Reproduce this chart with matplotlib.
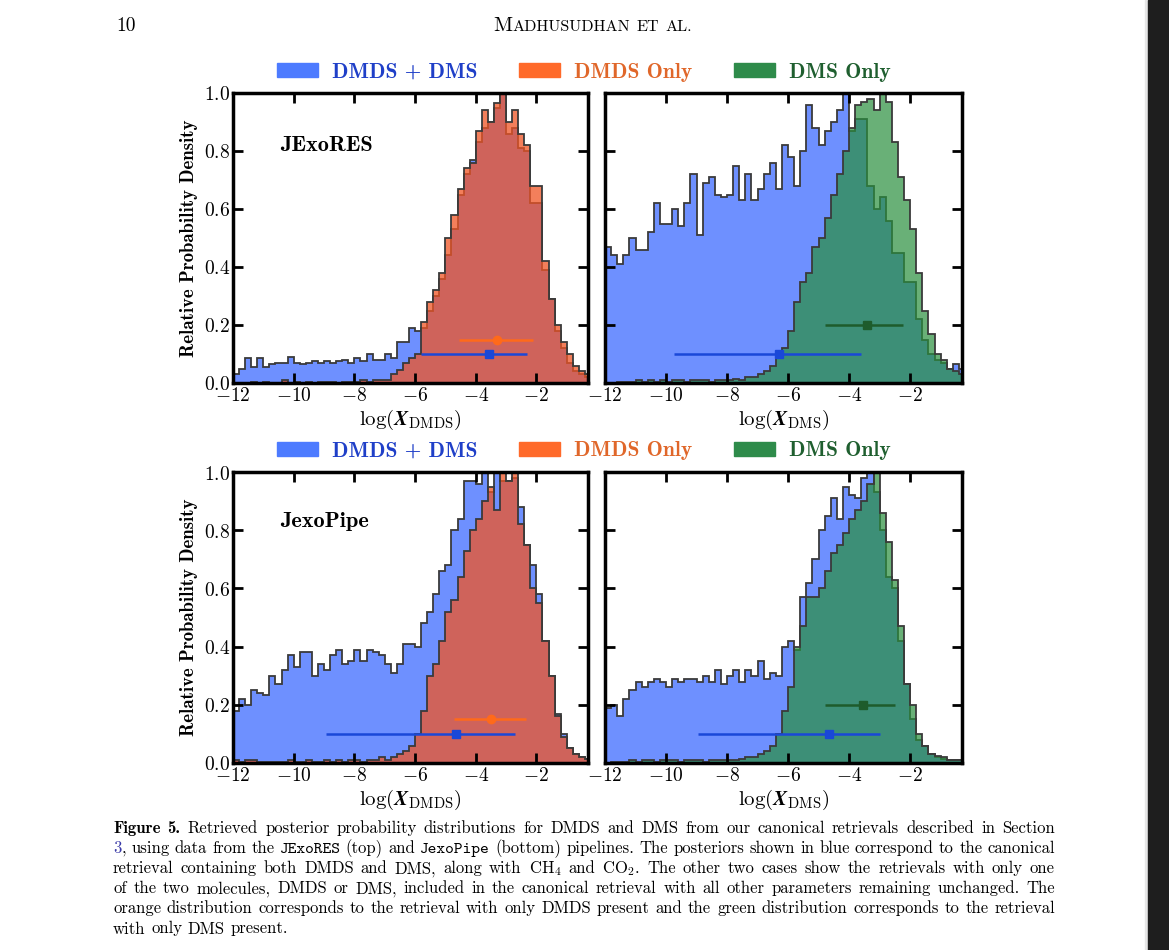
import numpy as np
import matplotlib
matplotlib.use('Agg')
import matplotlib.pyplot as plt
from matplotlib.patches import Patch, Rectangle
from matplotlib.ticker import FuncFormatter

plt.rcParams['mathtext.fontset'] = 'cm'

W, H = 1169, 950

# histogram bins (log mixing ratio, width 0.2)
bin_edges = np.round(np.arange(-12.0, -0.1, 0.2), 1)

# JExoRES, log(X_DMDS)
jexores_dmds_both = [0.03, 0.05, 0.085, 0.055, 0.085, 0.055, 0.065, 0.07, 0.07, 0.09,
                     0.07, 0.065, 0.07, 0.075, 0.07, 0.075, 0.07, 0.075, 0.08, 0.07,
                     0.085, 0.075, 0.1, 0.08, 0.08, 0.1, 0.085, 0.14, 0.14, 0.19,
                     0.18, 0.19, 0.25, 0.3, 0.36, 0.44, 0.53, 0.65, 0.72, 0.77,
                     0.83, 0.88, 0.9, 0.95, 1.0, 0.86, 0.88, 0.81, 0.8, 0.62,
                     0.62, 0.39, 0.29, 0.18, 0.12, 0.07, 0.04, 0.03, 0.02]
jexores_dmds_only = [0.0, 0.0, 0.0, 0.005, 0.0, 0.005, 0.0, 0.0, 0.01, 0.0,
                     0.005, 0.0, 0.005, 0.0, 0.005, 0.005, 0.005, 0.0, 0.005, 0.005,
                     0.005, 0.01, 0.005, 0.01, 0.01, 0.01, 0.03, 0.045, 0.07, 0.085,
                     0.1, 0.21, 0.28, 0.32, 0.38, 0.5, 0.58, 0.67, 0.74, 0.76,
                     0.87, 0.94, 0.9, 0.965, 1.0, 0.9, 0.94, 0.86, 0.82, 0.68,
                     0.68, 0.42, 0.29, 0.2, 0.14, 0.1, 0.06, 0.04, 0.03]
# JExoRES, log(X_DMS)
jexores_dms_both = [0.47, 0.44, 0.41, 0.44, 0.5, 0.46, 0.46, 0.52, 0.62, 0.55,
                    0.55, 0.6, 0.54, 0.62, 0.72, 0.51, 0.69, 0.71, 0.65, 0.64,
                    0.65, 0.75, 0.63, 0.72, 0.63, 0.67, 0.72, 0.76, 0.67, 0.82,
                    0.78, 0.68, 0.8, 0.96, 0.88, 0.82, 0.87, 0.9, 0.94, 1.0,
                    0.87, 0.91, 0.91, 0.68, 0.6, 0.64, 0.56, 0.45, 0.45, 0.35,
                    0.35, 0.22, 0.15, 0.1, 0.08, 0.07, 0.05, 0.065, 0.05]
jexores_dms_only = [0.0, 0.0, 0.005, 0.005, 0.005, 0.01, 0.005, 0.01, 0.005, 0.01,
                    0.005, 0.01, 0.01, 0.005, 0.01, 0.01, 0.01, 0.005, 0.01, 0.01,
                    0.01, 0.015, 0.01, 0.02, 0.02, 0.03, 0.04, 0.06, 0.09, 0.12,
                    0.18, 0.28, 0.35, 0.38, 0.47, 0.5, 0.57, 0.65, 0.72, 0.8,
                    0.88, 0.96, 0.97, 0.98, 0.94, 1.0, 0.97, 0.83, 0.71, 0.63,
                    0.53, 0.38, 0.25, 0.17, 0.1, 0.08, 0.05, 0.04, 0.03]
# JexoPipe, log(X_DMDS)
jexopipe_dmds_both = [0.18, 0.22, 0.2, 0.25, 0.24, 0.235, 0.3, 0.27, 0.32, 0.37,
                      0.33, 0.38, 0.38, 0.3, 0.34, 0.32, 0.37, 0.39, 0.34, 0.35,
                      0.39, 0.35, 0.39, 0.38, 0.37, 0.34, 0.31, 0.34, 0.41, 0.41,
                      0.4, 0.48, 0.52, 0.58, 0.66, 0.68, 0.8, 0.84, 0.97, 0.97,
                      0.96, 1.0, 0.93, 1.0, 0.97, 0.97, 0.98, 0.88, 0.75, 0.68,
                      0.58, 0.42, 0.3, 0.17, 0.1, 0.05, 0.03, 0.02, 0.015]
jexopipe_dmds_only = [0.01, 0.005, 0.01, 0.01, 0.005, 0.005, 0.005, 0.005, 0.005, 0.01,
                      0.005, 0.005, 0.01, 0.005, 0.005, 0.01, 0.005, 0.01, 0.005, 0.01,
                      0.01, 0.005, 0.01, 0.01, 0.02, 0.01, 0.02, 0.03, 0.04, 0.06,
                      0.1, 0.18, 0.3, 0.34, 0.42, 0.52, 0.56, 0.64, 0.73, 0.8,
                      0.84, 0.9, 0.95, 0.87, 1.0, 0.97, 1.0, 0.82, 0.75, 0.6,
                      0.55, 0.42, 0.3, 0.16, 0.09, 0.05, 0.03, 0.02, 0.015]
# JexoPipe, log(X_DMS)
jexopipe_dms_both = [0.19, 0.2, 0.16, 0.22, 0.25, 0.28, 0.26, 0.28, 0.29, 0.28,
                     0.26, 0.29, 0.28, 0.29, 0.29, 0.28, 0.3, 0.28, 0.32, 0.27,
                     0.3, 0.32, 0.28, 0.32, 0.3, 0.35, 0.29, 0.31, 0.3, 0.4,
                     0.42, 0.39, 0.57, 0.62, 0.7, 0.8, 0.85, 0.91, 0.84, 0.95,
                     0.92, 0.91, 0.98, 1.0, 0.93, 0.8, 0.64, 0.6, 0.42, 0.27,
                     0.15, 0.08, 0.06, 0.03, 0.02, 0.015, 0.01, 0.01, 0.01]
jexopipe_dms_only = [0.0, 0.005, 0.005, 0.005, 0.01, 0.005, 0.01, 0.01, 0.005, 0.01,
                     0.01, 0.01, 0.005, 0.01, 0.01, 0.01, 0.005, 0.01, 0.01, 0.01,
                     0.01, 0.01, 0.015, 0.02, 0.02, 0.03, 0.04, 0.06, 0.1, 0.18,
                     0.26, 0.4, 0.47, 0.57, 0.57, 0.6, 0.66, 0.72, 0.75, 0.79,
                     0.84, 0.87, 0.9, 0.96, 1.0, 0.86, 0.76, 0.63, 0.47, 0.27,
                     0.2, 0.1, 0.06, 0.03, 0.025, 0.02, 0.01, 0.01, 0.01]

# median, lower, upper, height of the 1-sigma bars
err_jexores_dmds_both = [-3.55, -5.8, -2.3, 0.1]
err_jexores_dmds_only = [-3.3, -4.55, -2.1, 0.15]
err_jexores_dms_both = [-6.3, -9.75, -3.6, 0.1]
err_jexores_dms_only = [-3.4, -4.8, -2.25, 0.2]
err_jexopipe_dmds_both = [-4.65, -8.95, -2.7, 0.1]
err_jexopipe_dmds_only = [-3.5, -4.7, -2.35, 0.15]
err_jexopipe_dms_both = [-4.65, -8.95, -3.0, 0.1]
err_jexopipe_dms_only = [-3.55, -4.8, -2.5, 0.2]

legend_labels = ['DMDS + DMS', 'DMDS Only', 'DMS Only']

blue_fill = (0.24, 0.42, 1.0, 0.75)
orange_fill = (0.94, 0.33, 0.14, 0.75)
green_fill = (0.16, 0.56, 0.24, 0.7)
edge = '#3a3a3a'
blue_err = '#1a48d8'
orange_err = '#ff6a1a'
green_err = '#1e5c2c'

fig = plt.figure(figsize=(W / 100, H / 100), dpi=100)
fig.patch.set_facecolor('white')


def box(x0, y0, x1, y1):
    return [x0 / W, 1 - y1 / H, (x1 - x0) / W, (y1 - y0) / H]


def panel(ax, both, only, fill, err_b, err_o, ecol, mark, xlab, left):
    ax.stairs(both, bin_edges, fill=True, facecolor=blue_fill, edgecolor=edge, lw=1.3)
    ax.stairs(only, bin_edges, fill=True, facecolor=fill, edgecolor=edge, lw=1.3)
    for e, c, m in [(err_b, blue_err, 's'), (err_o, ecol, mark)]:
        med, lo, hi, y = e
        ax.errorbar([med], [y], xerr=[[med - lo], [hi - med]], fmt=m, color=c,
                    ms=6, lw=1.8, capsize=0, zorder=5)
    ax.set_xlim(-12, -0.3)
    ax.set_ylim(0, 1.0)
    ax.set_xticks(range(-12, -1, 2))
    ax.set_yticks(np.arange(0, 1.01, 0.2))
    ax.xaxis.set_major_formatter(FuncFormatter(lambda v, p: r'$\mathbf{%d}$' % round(v)))
    ax.yaxis.set_major_formatter(FuncFormatter(lambda v, p: r'$\mathbf{%.1f}$' % v))
    ax.tick_params(direction='in', length=7, width=2, top=True, right=True,
                   labelsize=14, pad=2, labelleft=left)
    for sp in ax.spines.values():
        sp.set_linewidth(2.5)
    ax.set_xlabel(r'$\log(\mathbfit{X}_{\mathrm{%s}})$' % xlab, fontsize=15, labelpad=2)
    if left:
        ax.set_ylabel('Relative Probability Density', family='cmb10', fontsize=13.5, labelpad=4)


ax1 = fig.add_axes(box(233, 93, 588, 383))
ax2 = fig.add_axes(box(605, 93, 962, 383))
ax3 = fig.add_axes(box(233, 472, 588, 763))
ax4 = fig.add_axes(box(605, 472, 962, 763))

panel(ax1, jexores_dmds_both, jexores_dmds_only, orange_fill,
      err_jexores_dmds_both, err_jexores_dmds_only, orange_err, 'o', 'DMDS', True)
panel(ax2, jexores_dms_both, jexores_dms_only, green_fill,
      err_jexores_dms_both, err_jexores_dms_only, green_err, 's', 'DMS', False)
panel(ax3, jexopipe_dmds_both, jexopipe_dmds_only, orange_fill,
      err_jexopipe_dmds_both, err_jexopipe_dmds_only, orange_err, 'o', 'DMDS', True)
panel(ax4, jexopipe_dms_both, jexopipe_dms_only, green_fill,
      err_jexopipe_dms_both, err_jexopipe_dms_only, green_err, 's', 'DMS', False)

ax1.text(0.132, 0.82, 'JExoRES', transform=ax1.transAxes, family='cmb10',
         fontsize=16, va='center')
ax3.text(0.132, 0.83, 'JexoPipe', transform=ax3.transAxes, family='cmb10',
         fontsize=16, va='center')

handles = [Patch(color='#4d7bff'), Patch(color='#ff6a2a'), Patch(color='#2e8b4a')]
for ly in [72, 451]:
    fig.legend(handles, legend_labels, loc='center', bbox_to_anchor=(584 / W, 1 - ly / H),
               ncol=3, frameon=False, prop={'family': 'cmb10', 'size': 15.5},
               labelcolor=['#1f3fc8', '#e0672a', '#1f5f2f'],
               handlelength=1.9, handleheight=0.65, columnspacing=1.95, handletextpad=0.65)

# page header and caption
renderer = fig.canvas.get_renderer()


def put_runs(items, x0, ybase, x1=None, size=12.0):
    objs = []
    for s, fam, col, glue, fs in items:
        t = fig.text(0, 1 - ybase / H, s, family=fam, color=col,
                     fontsize=fs or size, va='baseline', ha='left')
        objs.append((t, glue))
    widths = [t.get_window_extent(renderer).width for t, _ in objs]
    ngap = sum(1 for _, g in objs[1:] if not g)
    if x1 is not None and ngap:
        gap = (x1 - x0 - sum(widths)) / ngap
    else:
        gap = 0.333 * size * 100 / 72
    x = x0
    for i, ((t, g), w) in enumerate(zip(objs, widths)):
        if i > 0 and not g:
            x += gap
        t.set_x(x / W)
        x += w


def words(line, fam='cmr10'):
    out = []
    for w in line.split(' '):
        f = 'cmtt10' if w in ('JExoRES', 'JexoPipe') else fam
        out.append((w, f, 'black', False, None))
    return out


put_runs([('10', 'cmr10', 'black', False, 14)], 116, 31)
put_runs([('M', 'cmr10', 'black', False, 15), ('ADHUSUDHAN', 'cmr10', 'black', True, 11.6),
          ('ET', 'cmr10', 'black', False, 11.6), ('AL.', 'cmr10', 'black', False, 11.6)],
         493, 31, size=14)

cap_left, cap_right = 113, 1055
lines = [
    [('Figure', 'cmb10', 'black', False, None), ('5.', 'cmb10', 'black', False, None)]
    + words('Retrieved posterior probability distributions for DMDS and DMS from our canonical retrievals described in Section'),
    [('3', 'cmr10', '#3a3aa8', False, None), (',', 'cmr10', 'black', True, None)]
    + words('using data from the JExoRES (top) and JexoPipe (bottom) pipelines. The posteriors shown in blue correspond to the canonical'),
    words('retrieval containing both DMDS and DMS, along with CH$_4$ and CO$_2$. The other two cases show the retrievals with only one'),
    words('of the two molecules, DMDS or DMS, included in the canonical retrieval with all other parameters remaining unchanged. The'),
    words('orange distribution corresponds to the retrieval with only DMDS present and the green distribution corresponds to the retrieval'),
    words('with only DMS present.'),
]
for i, items in enumerate(lines):
    last = i == len(lines) - 1
    put_runs(items, cap_left, 833 + 20.1 * i, None if last else cap_right)

# viewer background at the right edge
fig.patches.append(Rectangle((1145 / W, 0), 3 / W, 1, transform=fig.transFigure,
                             color='#e6e6e6', zorder=0))
fig.patches.append(Rectangle((1148 / W, 0), 21 / W, 1, transform=fig.transFigure,
                             color='#1e1e1e', zorder=0))

fig.savefig('out.png', dpi=100)
